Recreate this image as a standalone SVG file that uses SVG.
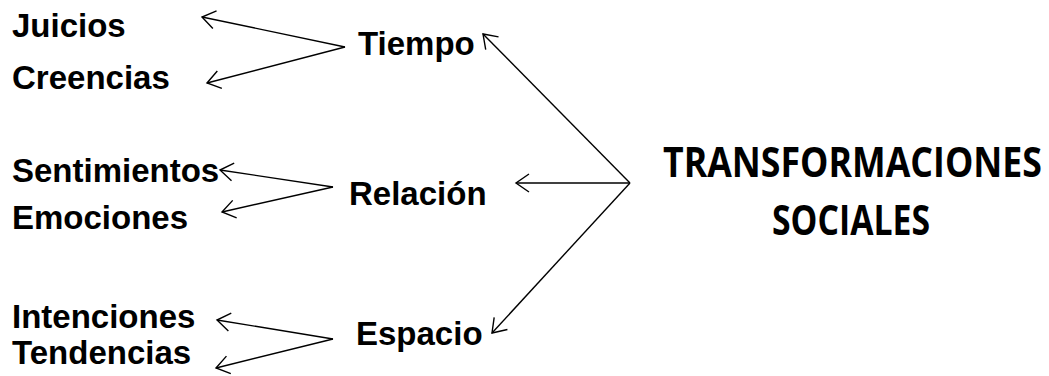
<svg xmlns="http://www.w3.org/2000/svg" width="1049" height="376" viewBox="0 0 1049 376">
<defs>
<marker id="ah" markerUnits="userSpaceOnUse" viewBox="-16 -11 20 22" refX="0" refY="0" markerWidth="20" markerHeight="22" orient="auto">
<path d="M-13,-9 L0,0 L-13,9" fill="none" stroke="#000" stroke-width="1.4"/>
</marker>
</defs>
<style>
.t{font-family:"Liberation Sans",Arial,sans-serif;font-weight:bold;font-size:33px;fill:#000}
.big{font-family:"Open Sans","Noto Sans",sans-serif;font-weight:bold;font-size:41px;fill:#000}
.c{stroke:#000;stroke-width:1.4;fill:none;marker-end:url(#ah)}
</style>
<rect width="1049" height="376" fill="#fff"/>
<g id="connectors">
<line class="c" x1="345" y1="47" x2="202" y2="17"/>
<line class="c" x1="345" y1="47" x2="207" y2="83"/>
<line class="c" x1="333" y1="187" x2="220" y2="170"/>
<line class="c" x1="333" y1="187" x2="222" y2="212"/>
<line class="c" x1="333" y1="339" x2="217" y2="320"/>
<line class="c" x1="333" y1="339" x2="216" y2="368"/>
<line class="c" x1="630" y1="183" x2="483" y2="34"/>
<line class="c" x1="630" y1="183" x2="516" y2="183"/>
<line class="c" x1="630" y1="183" x2="492" y2="333"/>
</g>
<g id="juicios"><text class="t" x="12" y="37">Juicios</text></g>
<g id="creencias"><text class="t" x="12" y="89">Creencias</text></g>
<g id="tiempo"><text class="t" x="358" y="55">Tiempo</text></g>
<g id="sentimientos"><text class="t" x="12" y="182">Sentimientos</text></g>
<g id="emociones"><text class="t" x="12" y="229">Emociones</text></g>
<g id="relacion"><text class="t" x="349" y="205">Relación</text></g>
<g id="intenciones"><text class="t" x="12" y="328">Intenciones</text></g>
<g id="tendencias"><text class="t" x="12" y="364">Tendencias</text></g>
<g id="espacio"><text class="t" x="356" y="345">Espacio</text></g>
<g id="transformaciones">
<text class="big" x="663" y="177" textLength="379" lengthAdjust="spacingAndGlyphs">TRANSFORMACIONES</text>
<text class="big" x="772" y="235" textLength="158" lengthAdjust="spacingAndGlyphs">SOCIALES</text>
</g>
</svg>
